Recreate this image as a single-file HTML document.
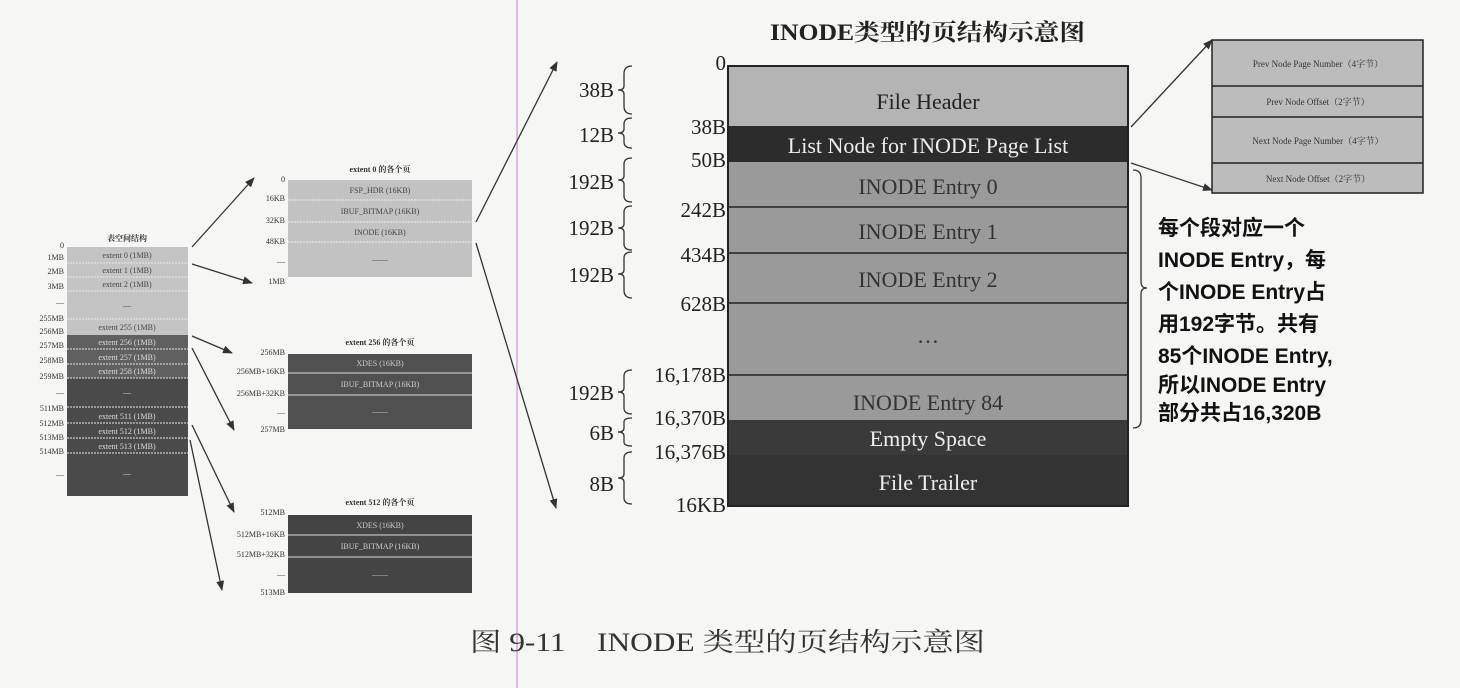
<!DOCTYPE html>
<html><head><meta charset="utf-8"><style>
html,body{margin:0;padding:0;background:#f6f6f4;}
svg{display:block}
.s{font-family:"Liberation Serif","Noto Serif CJK SC",serif;}
</style></head><body>
<svg width="1460" height="688" viewBox="0 0 1460 688" xmlns="http://www.w3.org/2000/svg" class="s">
<defs><marker id="a" markerWidth="10" markerHeight="8" refX="9" refY="4" orient="auto" markerUnits="userSpaceOnUse"><path d="M0,0 L10,4 L0,8 z" fill="#333"/></marker></defs>
<line x1="517" y1="0" x2="517" y2="688" stroke="#d9a6d9" stroke-width="1.5"/>

<!-- left column -->
<text x="127" y="241" font-size="8" text-anchor="middle" fill="#333" font-weight="bold">表空间结构</text>
<rect x="67" y="247" width="121" height="88" fill="#c4c4c4"/>
<rect x="67" y="335" width="121" height="161" fill="#4a4a4a"/>
<rect x="67" y="335" width="121" height="43" fill="#606060"/>
<g stroke="#e8e8e8" stroke-width="1" stroke-dasharray="2,1">
<line x1="67" y1="263" x2="188" y2="263"/><line x1="67" y1="277" x2="188" y2="277"/><line x1="67" y1="291" x2="188" y2="291"/><line x1="67" y1="319" x2="188" y2="319"/><line x1="67" y1="349" x2="188" y2="349"/><line x1="67" y1="364" x2="188" y2="364"/><line x1="67" y1="378" x2="188" y2="378"/><line x1="67" y1="407" x2="188" y2="407"/><line x1="67" y1="423" x2="188" y2="423"/><line x1="67" y1="438" x2="188" y2="438"/><line x1="67" y1="453" x2="188" y2="453"/></g>
<g font-size="8" text-anchor="middle" fill="#444">
<text x="127" y="258">extent 0 (1MB)</text><text x="127" y="273">extent 1 (1MB)</text><text x="127" y="287">extent 2 (1MB)</text><text x="127" y="308">—</text><text x="127" y="330">extent 255 (1MB)</text></g>
<g font-size="8" text-anchor="middle" fill="#ddd">
<text x="127" y="345">extent 256 (1MB)</text><text x="127" y="360">extent 257 (1MB)</text><text x="127" y="374">extent 258 (1MB)</text><text x="127" y="395">—</text><text x="127" y="419">extent 511 (1MB)</text><text x="127" y="434">extent 512 (1MB)</text><text x="127" y="449">extent 513 (1MB)</text><text x="127" y="476">—</text></g>
<g font-size="8" text-anchor="end" fill="#333">
<text x="64" y="248">0</text><text x="64" y="260">1MB</text><text x="64" y="274">2MB</text><text x="64" y="289">3MB</text><text x="64" y="305">—</text><text x="64" y="321">255MB</text><text x="64" y="334">256MB</text><text x="64" y="348">257MB</text><text x="64" y="363">258MB</text><text x="64" y="379">259MB</text><text x="64" y="395">—</text><text x="64" y="411">511MB</text><text x="64" y="426">512MB</text><text x="64" y="440">513MB</text><text x="64" y="454">514MB</text><text x="64" y="477">—</text></g>

<!-- extent 0 -->
<text x="380" y="172" font-size="8" text-anchor="middle" fill="#333" font-weight="bold">extent 0 的各个页</text>
<rect x="288" y="180" width="184" height="97" fill="#c2c2c2"/>
<g stroke="#eee" stroke-dasharray="2,1"><line x1="288" y1="200" x2="472" y2="200"/><line x1="288" y1="222" x2="472" y2="222"/><line x1="288" y1="242" x2="472" y2="242"/></g>
<g font-size="8" text-anchor="middle" fill="#444"><text x="380" y="193">FSP_HDR (16KB)</text><text x="380" y="214">IBUF_BITMAP (16KB)</text><text x="380" y="235">INODE (16KB)</text><text x="380" y="262">——</text></g>
<g font-size="8" text-anchor="end" fill="#333"><text x="285" y="182">0</text><text x="285" y="201">16KB</text><text x="285" y="223">32KB</text><text x="285" y="244">48KB</text><text x="285" y="264">—</text><text x="285" y="284">1MB</text></g>

<!-- extent 256 -->
<text x="380" y="345" font-size="8" text-anchor="middle" fill="#333" font-weight="bold">extent 256 的各个页</text>
<rect x="288" y="354" width="184" height="75" fill="#505050"/>
<g stroke="#ddd"><line x1="288" y1="373" x2="472" y2="373"/><line x1="288" y1="395" x2="472" y2="395"/></g>
<g font-size="8" text-anchor="middle" fill="#ccc"><text x="380" y="366">XDES (16KB)</text><text x="380" y="387">IBUF_BITMAP (16KB)</text><text x="380" y="414">——</text></g>
<g font-size="8" text-anchor="end" fill="#333"><text x="285" y="355">256MB</text><text x="285" y="374">256MB+16KB</text><text x="285" y="396">256MB+32KB</text><text x="285" y="415">—</text><text x="285" y="432">257MB</text></g>

<!-- extent 512 -->
<text x="380" y="505" font-size="8" text-anchor="middle" fill="#333" font-weight="bold">extent 512 的各个页</text>
<rect x="288" y="515" width="184" height="78" fill="#444"/>
<g stroke="#ddd"><line x1="288" y1="535" x2="472" y2="535"/><line x1="288" y1="557" x2="472" y2="557"/></g>
<g font-size="8" text-anchor="middle" fill="#ccc"><text x="380" y="528">XDES (16KB)</text><text x="380" y="549">IBUF_BITMAP (16KB)</text><text x="380" y="577">——</text></g>
<g font-size="8" text-anchor="end" fill="#333"><text x="285" y="515">512MB</text><text x="285" y="537">512MB+16KB</text><text x="285" y="557">512MB+32KB</text><text x="285" y="577">—</text><text x="285" y="595">513MB</text></g>

<!-- arrows -->
<g stroke="#333" stroke-width="1.3" marker-end="url(#a)">
<line x1="192" y1="247" x2="254" y2="178"/><line x1="192" y1="264" x2="252" y2="283"/>
<line x1="192" y1="336" x2="232" y2="353"/><line x1="192" y1="348" x2="234" y2="430"/>
<line x1="192" y1="425" x2="234" y2="512"/><line x1="190" y1="440" x2="222" y2="590"/>
<line x1="476" y1="222" x2="557" y2="62"/><line x1="476" y1="243" x2="556" y2="508"/>
<line x1="1131" y1="127" x2="1212" y2="40"/><line x1="1131" y1="163" x2="1212" y2="190"/>
</g>

<!-- main -->
<text x="770" y="40" font-size="23" fill="#222" font-weight="bold" textLength="315" lengthAdjust="spacingAndGlyphs">INODE类型的页结构示意图</text>
<rect x="728" y="66" width="400" height="60" fill="#b4b4b4"/>
<rect x="728" y="126" width="400" height="36" fill="#2c2c2c"/>
<rect x="728" y="162" width="400" height="258" fill="#9a9a9a"/>
<rect x="728" y="420" width="400" height="35" fill="#3a3a3a"/>
<rect x="728" y="455" width="400" height="51" fill="#333"/>
<rect x="728" y="66" width="400" height="440" fill="none" stroke="#222" stroke-width="2"/>
<g stroke="#222" stroke-width="1.5"><line x1="728" y1="207" x2="1128" y2="207"/><line x1="728" y1="253" x2="1128" y2="253"/><line x1="728" y1="303" x2="1128" y2="303"/><line x1="728" y1="375" x2="1128" y2="375"/></g>
<g font-size="22" text-anchor="middle">
<text x="928" y="109" fill="#222">File Header</text>
<text x="928" y="153" fill="#eee">List Node for INODE Page List</text>
<text x="928" y="194" fill="#333">INODE Entry 0</text>
<text x="928" y="239" fill="#333">INODE Entry 1</text>
<text x="928" y="287" fill="#333">INODE Entry 2</text>
<text x="928" y="343" fill="#333">…</text>
<text x="928" y="410" fill="#333">INODE Entry 84</text>
<text x="928" y="446" fill="#eee">Empty Space</text>
<text x="928" y="490" fill="#eee">File Trailer</text></g>
<g font-size="21" text-anchor="end" fill="#222">
<text x="726" y="70">0</text><text x="726" y="134">38B</text><text x="726" y="167">50B</text><text x="726" y="217">242B</text><text x="726" y="262">434B</text><text x="726" y="311">628B</text><text x="726" y="382">16,178B</text><text x="726" y="425">16,370B</text><text x="726" y="459">16,376B</text><text x="726" y="512">16KB</text>
<text x="614" y="97">38B</text><text x="614" y="142">12B</text><text x="614" y="189">192B</text><text x="614" y="235">192B</text><text x="614" y="282">192B</text><text x="614" y="400">192B</text><text x="614" y="440">6B</text><text x="614" y="491">8B</text></g>
<g fill="none" stroke="#333" stroke-width="1.3">
<path d="M632,66 q-8,0 -8,8 v12 q0,4 -6,4 q6,0 6,4 v12 q0,8 8,8"/>
<path d="M632,118 q-8,0 -8,6 v5 q0,4 -6,4 q6,0 6,4 v5 q0,6 8,6"/>
<path d="M632,158 q-8,0 -8,6 v12 q0,4 -6,4 q6,0 6,4 v12 q0,6 8,6"/>
<path d="M632,206 q-8,0 -8,6 v12 q0,4 -6,4 q6,0 6,4 v12 q0,6 8,6"/>
<path d="M632,252 q-8,0 -8,6 v12 q0,4 -6,4 q6,0 6,4 v12 q0,8 8,8"/>
<path d="M632,370 q-8,0 -8,6 v12 q0,4 -6,4 q6,0 6,4 v12 q0,6 8,6"/>
<path d="M632,418 q-8,0 -8,4 v6 q0,4 -6,4 q6,0 6,4 v6 q0,4 8,4"/>
<path d="M632,452 q-8,0 -8,6 v16 q0,4 -6,4 q6,0 6,4 v16 q0,6 8,6"/>
<path d="M1133,170 q8,0 8,8 v104 q0,6 6,6 q-6,0 -6,6 v126 q0,8 -8,8"/>
</g>

<!-- right small box -->
<rect x="1212" y="40" width="211" height="153" fill="#bcbcbc" stroke="#222" stroke-width="1.5"/>
<g stroke="#222" stroke-width="1.5"><line x1="1212" y1="86" x2="1423" y2="86"/><line x1="1212" y1="117" x2="1423" y2="117"/><line x1="1212" y1="163" x2="1423" y2="163"/></g>
<g font-size="9" text-anchor="middle" fill="#333"><text x="1318" y="67">Prev Node Page Number（4字节）</text><text x="1318" y="105">Prev Node Offset（2字节）</text><text x="1318" y="144">Next Node Page Number（4字节）</text><text x="1318" y="182">Next Node Offset（2字节）</text></g>

<g font-size="21" fill="#111" font-weight="bold" font-family="Liberation Sans,'Noto Sans CJK SC',sans-serif">
<text x="1158" y="235">每个段对应一个</text><text x="1158" y="267">INODE Entry，每</text><text x="1158" y="299">个INODE Entry占</text><text x="1158" y="331">用192字节。共有</text><text x="1158" y="363">85个INODE Entry,</text><text x="1158" y="392">所以INODE Entry</text><text x="1158" y="420">部分共占16,320B</text></g>

<text x="470" y="651" font-size="26" fill="#333" textLength="515" lengthAdjust="spacingAndGlyphs">图 9-11　INODE 类型的页结构示意图</text>
</svg>
</body></html>
